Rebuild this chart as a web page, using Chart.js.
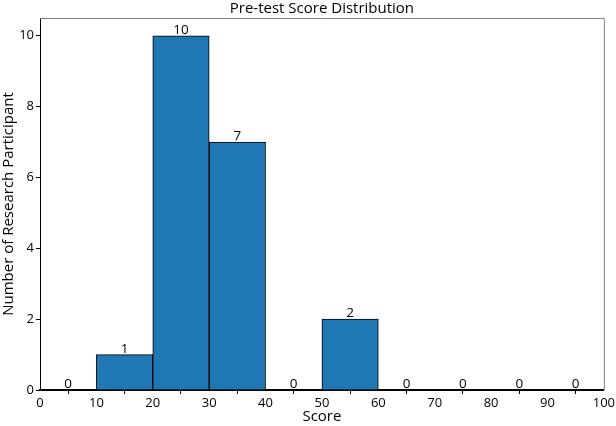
<!DOCTYPE html>
<html>
<head>
<meta charset="utf-8">
<script src="https://cdn.jsdelivr.net/npm/chart.js@4"></script>
<style>
  html, body { margin: 0; padding: 0; background: #fff; }
  #wrap { width: 616px; height: 426px; }
</style>
</head>
<body>
<div id="wrap"><canvas id="myChart" width="616" height="426"></canvas></div>
<script>
// bin centres (bins are 10 wide, 0-100) and counts
const binCenters = [5, 15, 25, 35, 45, 55, 65, 75, 85, 95];
const counts = [0, 1, 10, 7, 0, 2, 0, 0, 0, 0];
const xTicks = [0, 10, 20, 30, 40, 50, 60, 70, 80, 90, 100];
const yTicks = [0, 2, 4, 6, 8, 10];

const fontFamily = "'Open Sans', 'Noto Sans', sans-serif";

// draws the count above every bar and the top/right frame
const barLabels = {
    id: 'barLabels',
    afterDatasetsDraw(chart) {
        const ctx = chart.ctx;
        const area = chart.chartArea;
        const meta = chart.getDatasetMeta(0);
        ctx.save();
        ctx.fillStyle = '#000';
        ctx.font = '13.5px ' + fontFamily;
        ctx.textAlign = 'center';
        ctx.textBaseline = 'alphabetic';
        meta.data.forEach((bar, i) => {
            ctx.fillText(String(counts[i]), bar.x, bar.y - 2);
        });
        // top and right spines
        ctx.strokeStyle = '#808080';
        ctx.lineWidth = 1;
        ctx.beginPath();
        ctx.moveTo(area.left, area.top + 0.5);
        ctx.lineTo(area.right + 0.5, area.top + 0.5);
        ctx.lineTo(area.right + 0.5, area.bottom);
        ctx.stroke();
        ctx.restore();
    }
};

const ctx = document.getElementById('myChart').getContext('2d');
const myChart = new Chart(ctx, {
    type: 'bar',
    data: {
        datasets: [{
            data: binCenters.map((x, i) => ({ x: x, y: counts[i] })),
            backgroundColor: '#1f77b4',
            borderColor: '#000',
            borderWidth: 1,
            borderSkipped: 'start',
            barPercentage: 1,
            categoryPercentage: 1
        }]
    },
    options: {
        responsive: false,
        animation: false,
        layout: { padding: { left: 0, right: 12, top: 0, bottom: 0 } },
        plugins: {
            legend: { display: false },
            tooltip: { enabled: false },
            title: {
                display: true,
                text: 'Pre-test Score Distribution',
                color: '#000',
                fullSize: false,
                font: { family: fontFamily, size: 15, weight: 'normal', lineHeight: 1.2 },
                padding: { top: 0, bottom: 0 }
            }
        },
        scales: {
            x: {
                type: 'linear',
                min: 0,
                max: 100,
                offset: false,
                afterBuildTicks: axis => { axis.ticks = xTicks.map(v => ({ value: v })); },
                afterFit: axis => { axis.height = 36; },
                ticks: {
                    color: '#000',
                    padding: 1,
                    maxRotation: 0,
                    autoSkip: false,
                    font: { family: fontFamily, size: 13 }
                },
                grid: { drawOnChartArea: false, drawTicks: true, tickLength: 4, color: '#000' },
                border: { color: '#000', width: 2 },
                title: {
                    display: true,
                    text: 'Score',
                    color: '#000',
                    padding: 0,
                    font: { family: fontFamily, size: 15 }
                }
            },
            y: {
                min: 0,
                max: 10.5,
                afterBuildTicks: axis => { axis.ticks = yTicks.map(v => ({ value: v })); },
                afterFit: axis => { axis.width = 40; },
                ticks: {
                    color: '#000',
                    padding: 2,
                    font: { family: fontFamily, size: 13 }
                },
                grid: { drawOnChartArea: false, drawTicks: true, tickLength: 4, color: '#000' },
                border: { color: '#000', width: 1 },
                title: {
                    display: true,
                    text: 'Number of Research Participant',
                    color: '#000',
                    padding: 0,
                    font: { family: fontFamily, size: 15 }
                }
            }
        }
    },
    plugins: [barLabels]
});
</script>
</body>
</html>
